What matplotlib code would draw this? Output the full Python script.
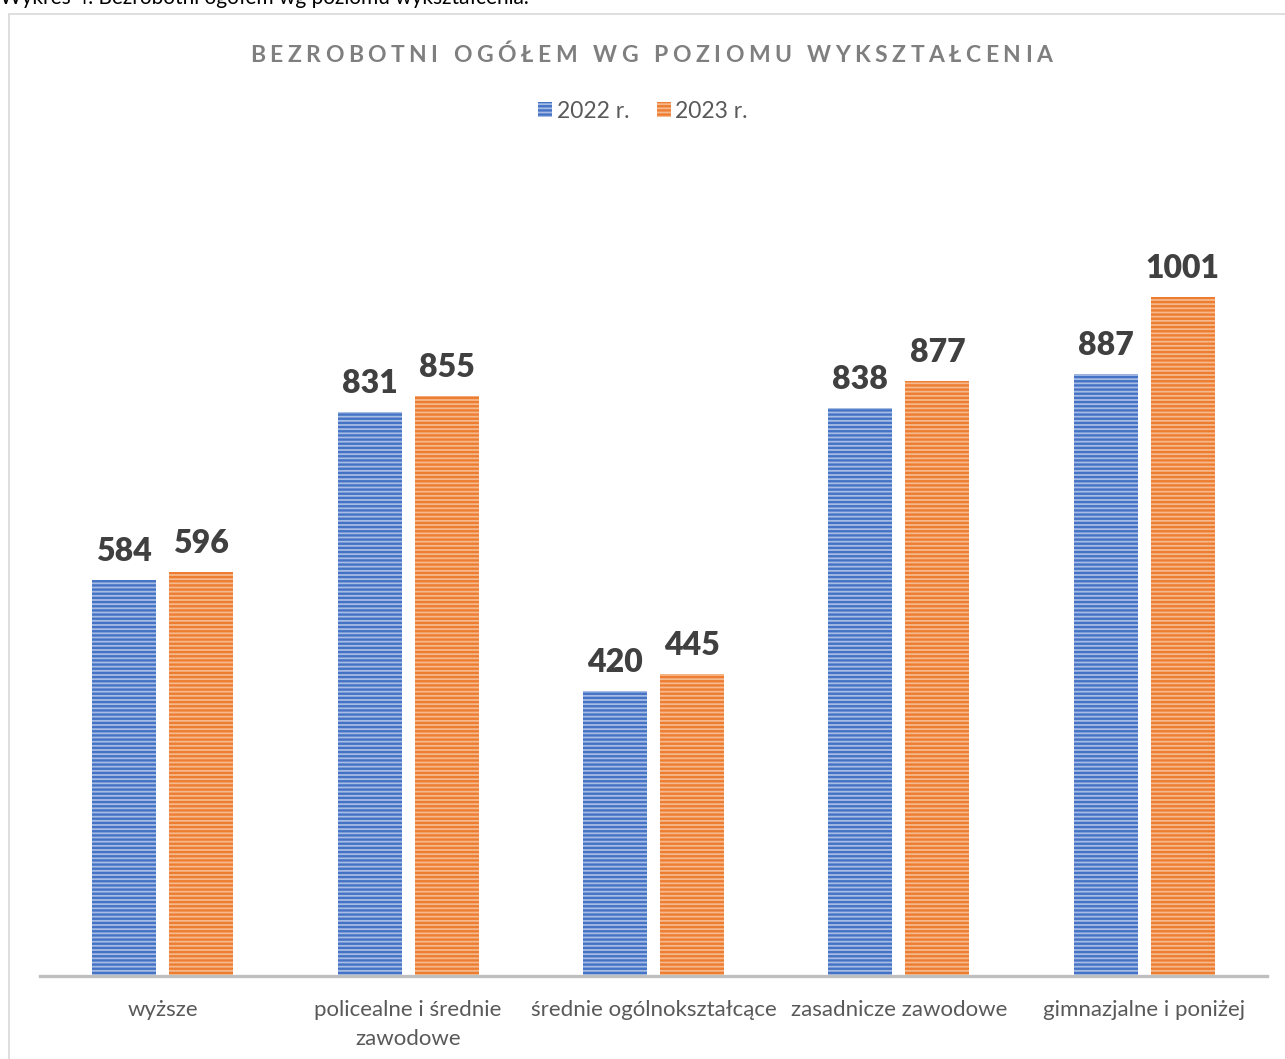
import matplotlib
matplotlib.use("Agg")
import matplotlib.pyplot as plt
from matplotlib.patches import Rectangle, Patch
import numpy as np

categories = ["wyższe", "policealne i średnie\nzawodowe", "średnie ogólnokształcące",
              "zasadnicze zawodowe", "gimnazjalne i poniżej"]
series_names = ["2022 r.", "2023 r."]
values_2022 = [584, 831, 420, 838, 887]
values_2023 = [596, 855, 445, 877, 1001]
title = "BEZROBOTNI OGÓŁEM WG POZIOMU WYKSZTAŁCENIA"
caption = "Wykres 4. Bezrobotni ogółem wg poziomu wykształcenia."

FONT = ["Lato", "DejaVu Sans"]
plt.rcParams['font.family'] = FONT
plt.rcParams['hatch.linewidth'] = 1.7

W, H = 1285, 1059
fig = plt.figure(figsize=(W / 100, H / 100), dpi=100)

# chart frame
fig.patches.append(Rectangle((9 / W, -0.1), 1.2, (H - 14) / H + 0.1, transform=fig.transFigure,
                             fill=False, edgecolor="#D9D9D9", linewidth=1.2))
# caption partially cut at top (as in the reference)
fig.text(0 / W, 1 - 4 / H, caption, ha="left", va="baseline", fontsize=15, color="#000000")

ax = fig.add_axes([40 / W, (H - 976) / H, (1267 - 40) / W, 814 / H])
x = np.arange(len(categories))
bw = 0.261
off = 0.157
styles = [("#A7BCE5", "#4472C4"), ("#F6B98E", "#ED7D31")]
for vals, dx, (fc, hc), name in zip([values_2022, values_2023], [-off, off], styles, series_names):
    bars = ax.bar(x + dx, vals, width=bw, facecolor=fc, edgecolor=hc, hatch="----",
                  linewidth=0, label=name, zorder=2)
    for b, v in zip(bars, vals):
        ax.annotate(str(v), (b.get_x() + b.get_width() / 2, v), xytext=(0, 10),
                    textcoords="offset points", ha="center", va="bottom",
                    fontsize=23, fontweight="heavy", color="#404040")

ax.set_xlim(-0.5, len(categories) - 0.5)
ax.set_ylim(0, 1200)
for s in ["top", "right", "left"]:
    ax.spines[s].set_visible(False)
ax.spines["bottom"].set_color("#BFBFBF")
ax.spines["bottom"].set_linewidth(2.4)
ax.set_yticks([])
ax.set_xticks(x)
ax.set_xticklabels(categories, fontsize=16, color="#595959", linespacing=1.6)
ax.tick_params(axis="x", length=0, pad=17)

# legend
handles = [Patch(facecolor=fc, edgecolor=hc, hatch="----", linewidth=0) for fc, hc in styles]
fig.legend(handles, series_names, loc="center", bbox_to_anchor=(643 / W, 1 - 111 / H),
           ncol=2, frameon=False, fontsize=16.5, handlelength=0.6, handleheight=0.6,
           handletextpad=0.2, columnspacing=1.2, labelcolor="#595959")

# title with letter spacing
renderer = fig.canvas.get_renderer()
tprops = dict(fontsize=16.5, fontweight="bold", color="#7F7F7F")
widths = []
for ch in title:
    t = fig.text(0, 0, ch if ch != " " else "n", **tprops)
    bb = t.get_window_extent(renderer)
    widths.append(bb.width * (0.55 if ch == " " else 1.0))
    t.remove()
target_w = 1052 - 250
spacing = (target_w - sum(widths)) / (len(title) - 1)
xpos = 250.0
for ch, w in zip(title, widths):
    if ch != " ":
        fig.text(xpos / W, 1 - 62 / H, ch, ha="left", va="baseline", **tprops)
    xpos += w + spacing

fig.savefig("out.png", dpi=100)
